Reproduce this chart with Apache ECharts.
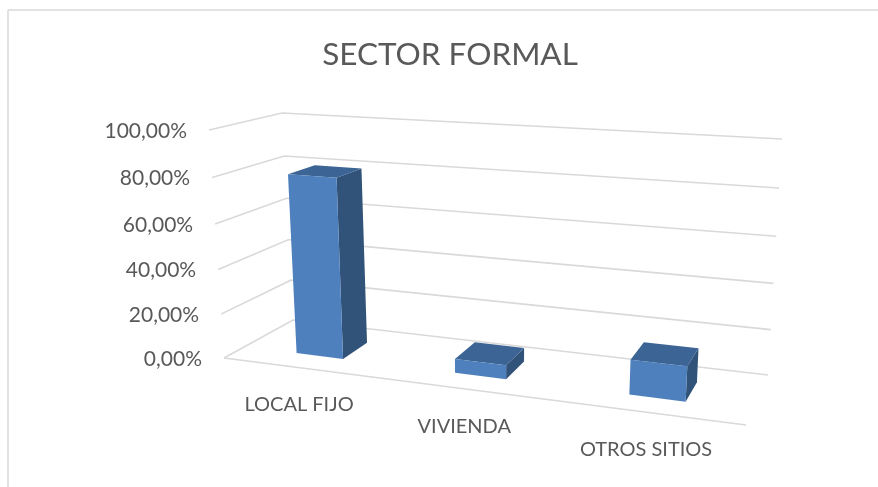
<!DOCTYPE html>
<html>
<head>
<meta charset="utf-8">
<style>
  html, body { margin: 0; padding: 0; background: #fff; }
  #chart { width: 878px; height: 487px; }
</style>
<script src="https://cdn.jsdelivr.net/npm/echarts@6/dist/echarts.min.js"></script>
</head>
<body>
<div id="chart"></div>
<script>
const titleText = 'SECTOR FORMAL'
const categories = ['LOCAL FIJO', 'VIVIENDA', 'OTROS SITIOS']
const shares = [80.3, 6.2, 14.8]
const valueTicks = [0, 20, 40, 60, 80, 100]
const tickLabels = ['0,00%', '20,00%', '40,00%', '60,00%', '80,00%', '100,00%']

// Screen corners of the 3D box the flat grid gets warped onto
const box = {
  frontBottomLeft: [224, 358], frontTopLeft: [209, 130],
  backBottomLeft: [293, 320], backTopLeft: [282, 113],
  backBottomRight: [768, 375], backTopRight: [782, 139],
  frontBottomRight: [746, 425], frontTopRight: [762, 165]
}

const textColor = '#595959'
const gridColor = '#d9d9d9'
const fontFamily = 'Lato, sans-serif'

function mix(a, b, k) {
  return [a[0] + (b[0] - a[0]) * k, a[1] + (b[1] - a[1]) * k]
}

// Flat pixel from api.coord -> perspective pixel. depth: 0 front, 1 back
function project(point, depth, sys) {
  const t = (point[0] - sys.x) / sys.width
  const v = 1 - (point[1] - sys.y) / sys.height
  const u = t / (1 + 0.155 * (1 - t))
  const h = v / (1 + 0.05 * (1 - v))
  const left = mix(mix(box.frontBottomLeft, box.backBottomLeft, depth), mix(box.frontTopLeft, box.backTopLeft, depth), h)
  const right = mix(mix(box.frontBottomRight, box.backBottomRight, depth), mix(box.frontTopRight, box.backTopRight, depth), h)
  return mix(left, right, u)
}

function renderTick(params, api) {
  const sys = params.coordSys
  const y = api.coord([0, api.value(1)])[1]
  const front = project([sys.x, y], 0, sys)
  const back = project([sys.x, y], 1, sys)
  const end = project([sys.x + sys.width, y], 1, sys)
  const lineStyle = { stroke: gridColor, lineWidth: 1.6, fill: null }
  const children = [
    { type: 'polyline', shape: { points: [front, back, end] }, style: lineStyle },
    {
      type: 'text',
      style: {
        text: tickLabels[params.dataIndex],
        x: front[0] - 22,
        y: front[1] + 1,
        align: 'right',
        verticalAlign: 'middle',
        fill: textColor,
        font: '21px ' + fontFamily
      }
    }
  ]
  if (params.dataIndex === 0) {
    const frontEnd = project([sys.x + sys.width, y], 0, sys)
    children.push({ type: 'line', shape: { x1: front[0], y1: front[1], x2: frontEnd[0], y2: frontEnd[1] }, style: lineStyle })
  }
  return { type: 'group', children }
}

function renderBar(params, api) {
  const sys = params.coordSys
  const i = api.value(0)
  const base = api.coord([i, 0])
  const top = api.coord([i, api.value(1)])
  const half = api.size([1, 0])[0] / 6.6
  const p = (x, y, d) => project([x, y], d, sys)
  const l = base[0] - half
  const r = base[0] + half
  const frontD = 0.3
  const backD = 0.7
  return {
    type: 'group',
    children: [
      {
        type: 'polygon',
        shape: { points: [p(r, base[1], frontD), p(r, base[1], backD), p(r, top[1], backD), p(r, top[1], frontD)] },
        style: { fill: '#315279' }
      },
      {
        type: 'polygon',
        shape: { points: [p(l, top[1], frontD), p(r, top[1], frontD), p(r, top[1], backD), p(l, top[1], backD)] },
        style: { fill: '#3c6494' }
      },
      {
        type: 'polygon',
        shape: { points: [p(l, base[1], frontD), p(r, base[1], frontD), p(r, top[1], frontD), p(l, top[1], frontD)] },
        style: { fill: '#4e80bd' }
      }
    ]
  }
}

function renderCategory(params, api) {
  const anchor = project(api.coord([api.value(0), 0]), 0, params.coordSys)
  return {
    type: 'text',
    style: {
      text: categories[params.dataIndex],
      x: anchor[0] - 2,
      y: anchor[1] + 37,
      align: 'center',
      verticalAlign: 'middle',
      fill: textColor,
      font: '20px ' + fontFamily
    }
  }
}

const chart = echarts.init(document.getElementById('chart'))

chart.setOption({
  animation: false,
  backgroundColor: '#fff',
  title: {
    text: titleText,
    left: 445,
    top: 34,
    textAlign: 'center',
    textStyle: { color: textColor, fontSize: 31.5, fontWeight: 'normal', fontFamily }
  },
  grid: { left: 0, right: 0, top: 0, bottom: 0 },
  xAxis: { type: 'category', data: categories, show: false },
  yAxis: { type: 'value', min: 0, max: 100, interval: 20, show: false },
  graphic: [
    { type: 'line', silent: true, shape: { x1: 8, y1: 10, x2: 878, y2: 10 }, style: { stroke: gridColor, lineWidth: 1.5 } },
    { type: 'line', silent: true, shape: { x1: 8, y1: 10, x2: 8, y2: 487 }, style: { stroke: gridColor, lineWidth: 1.5 } }
  ],
  series: [
    {
      type: 'custom',
      silent: true,
      clip: false,
      z: 1,
      renderItem: renderTick,
      encode: { x: 0, y: 1 },
      data: valueTicks.map(v => [0, v])
    },
    {
      type: 'custom',
      silent: true,
      clip: false,
      z: 2,
      renderItem: renderBar,
      encode: { x: 0, y: 1 },
      data: shares.map((v, i) => [i, v])
    },
    {
      type: 'custom',
      silent: true,
      clip: false,
      z: 3,
      renderItem: renderCategory,
      encode: { x: 0, y: 1 },
      data: categories.map((c, i) => [i, 0])
    }
  ]
})
</script>
</body>
</html>
